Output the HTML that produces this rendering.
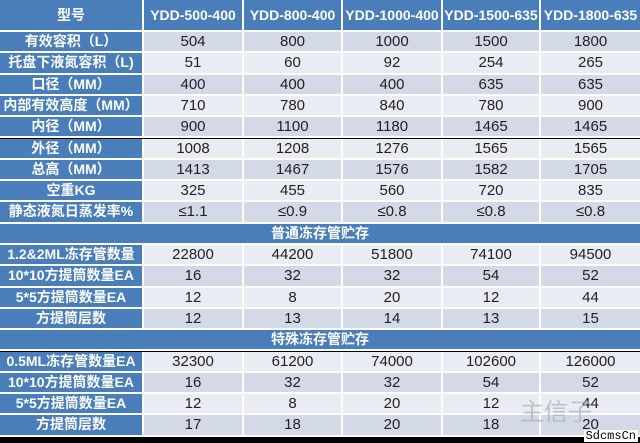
<!DOCTYPE html>
<html><head><meta charset="utf-8"><style>
body{margin:0;width:640px;height:442px;background:#000;overflow:hidden;position:relative;font-family:"Liberation Sans","Noto Sans CJK SC",sans-serif}
.r{position:absolute;left:0;width:640px;height:21.3px;display:flex}
.r div{box-sizing:border-box;height:100%;border-right:2px solid #fff;border-bottom:2px solid #fff;text-align:center;font-size:15px;line-height:19px;color:#222;white-space:nowrap;overflow:hidden}
.r div:nth-child(1){width:144px;background:#4a7ebb;color:#fff;font-weight:bold;font-size:14px}
.r div:nth-child(2){width:100px}.r div:nth-child(3){width:99px}.r div:nth-child(4){width:100px}.r div:nth-child(5){width:98px}.r div:nth-child(6){width:99px;border-right:0}
.a div{background:#d3d9e6}.b div{background:#e9ecf3}
.h{height:32px}.h div{background:#4a7ebb!important;color:#fff!important;font-weight:bold;line-height:30px;font-size:14px!important}
.s div{width:640px!important;background:#4a7ebb!important;color:#fff!important;font-weight:bold;border-right:0}
.wm{position:absolute;right:2px;bottom:0;font:12px "Liberation Mono",monospace;color:#000;background:#fff;padding:0 2px;line-height:12px}
.wx{position:absolute;left:520px;top:392px;font-size:24px;color:rgba(170,175,185,0.7);font-family:"Noto Sans CJK SC",sans-serif}
</style></head><body>
<div class="r h" style="top:0"><div>型号</div><div>YDD-500-400</div><div>YDD-800-400</div><div>YDD-1000-400</div><div>YDD-1500-635</div><div>YDD-1800-635</div></div>
<div class="r a" style="top:32px"><div>有效容积（L）</div><div>504</div><div>800</div><div>1000</div><div>1500</div><div>1800</div></div>
<div class="r b" style="top:53.3px"><div>托盘下液氮容积（L)</div><div>51</div><div>60</div><div>92</div><div>254</div><div>265</div></div>
<div class="r a" style="top:74.6px"><div>口径（MM）</div><div>400</div><div>400</div><div>400</div><div>635</div><div>635</div></div>
<div class="r b" style="top:95.9px"><div>内部有效高度（MM）</div><div>710</div><div>780</div><div>840</div><div>780</div><div>900</div></div>
<div class="r a" style="top:117.2px"><div>内径（MM）</div><div>900</div><div>1100</div><div>1180</div><div>1465</div><div>1465</div></div>
<div class="r b" style="top:138.5px"><div>外径（MM）</div><div>1008</div><div>1208</div><div>1276</div><div>1565</div><div>1565</div></div>
<div class="r a" style="top:159.8px"><div>总高（MM）</div><div>1413</div><div>1467</div><div>1576</div><div>1582</div><div>1705</div></div>
<div class="r b" style="top:181.1px"><div>空重KG</div><div>325</div><div>455</div><div>560</div><div>720</div><div>835</div></div>
<div class="r a" style="top:202.4px"><div>静态液氮日蒸发率%</div><div>≤1.1</div><div>≤0.9</div><div>≤0.8</div><div>≤0.8</div><div>≤0.8</div></div>
<div class="r s" style="top:223.7px"><div>普通冻存管贮存</div></div>
<div class="r b" style="top:245px"><div>1.2&amp;2ML冻存管数量</div><div>22800</div><div>44200</div><div>51800</div><div>74100</div><div>94500</div></div>
<div class="r a" style="top:266.3px"><div>10*10方提筒数量EA</div><div>16</div><div>32</div><div>32</div><div>54</div><div>52</div></div>
<div class="r b" style="top:287.6px"><div>5*5方提筒数量EA</div><div>12</div><div>8</div><div>20</div><div>12</div><div>44</div></div>
<div class="r a" style="top:308.9px"><div>方提筒层数</div><div>12</div><div>13</div><div>14</div><div>13</div><div>15</div></div>
<div class="r s" style="top:330.2px"><div>特殊冻存管贮存</div></div>
<div class="r b" style="top:351.5px"><div>0.5ML冻存管数量EA</div><div>32300</div><div>61200</div><div>74000</div><div>102600</div><div>126000</div></div>
<div class="r a" style="top:372.8px"><div>10*10方提筒数量EA</div><div>16</div><div>32</div><div>32</div><div>54</div><div>52</div></div>
<div class="r b" style="top:394.1px"><div>5*5方提筒数量EA</div><div>12</div><div>8</div><div>20</div><div>12</div><div>44</div></div>
<div class="r a" style="top:415.4px"><div>方提筒层数</div><div>17</div><div>18</div><div>20</div><div>18</div><div>20</div></div>
<div class="wx">主信子</div>
<div class="wm">SdcmsCn</div>
</body></html>
